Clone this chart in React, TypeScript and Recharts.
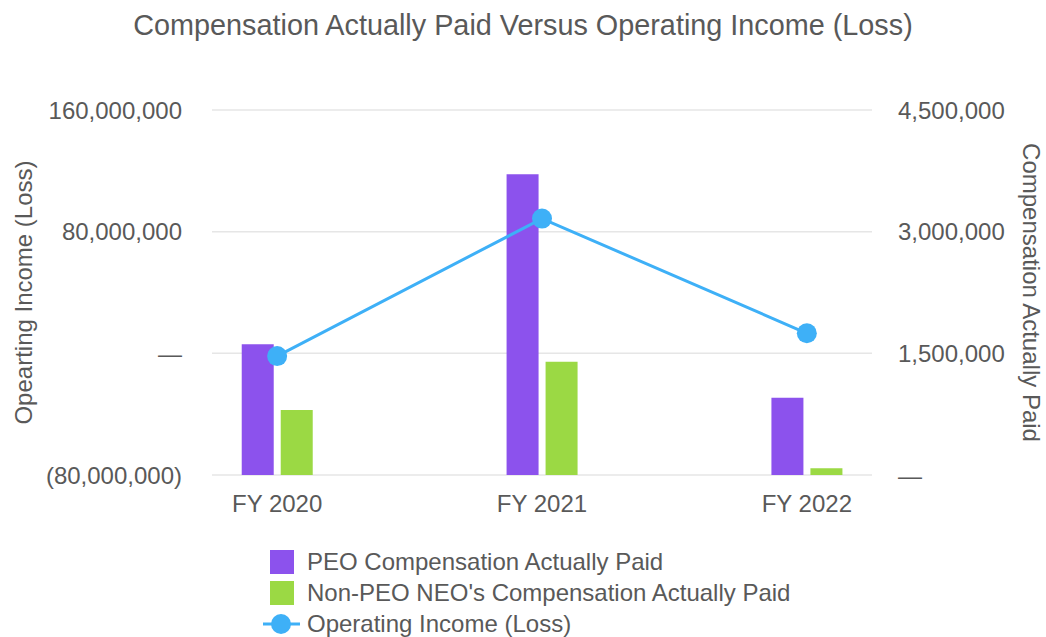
import React from 'react';
import { ComposedChart, Bar, Line, XAxis, YAxis, CartesianGrid, Legend, Label } from 'recharts';

const categories = ['FY 2020', 'FY 2021', 'FY 2022'];
const peoCap = [1613000, 3707000, 952000];
const neoCap = [800000, 1395000, 83000];
const operatingIncome = [-1800000, 88600000, 13200000];
const leftTicks = [-80000000, 0, 80000000, 160000000];
const rightTicks = [0, 1500000, 3000000, 4500000];
const seriesNames = [
    'PEO Compensation Actually Paid',
    "Non-PEO NEO's Compensation Actually Paid",
    'Operating Income (Loss)',
];

const PURPLE = '#8c52ed';
const GREEN = '#9bd944';
const BLUE = '#3eb0f7';
const TEXT = '#595959';
const FONT = '"Liberation Sans", Arial, Helvetica, sans-serif';

const data = categories.map((name, i) => ({
    idx: i,
    name,
    peo: peoCap[i],
    neo: neoCap[i],
    income: operatingIncome[i],
}));

const fmt = (v: number) => {
    if (v === 0) return '\u2014';
    const s = String(Math.abs(v)).replace(/\B(?=(\d{3})+(?!\d))/g, ',');
    return v < 0 ? `(${s})` : s;
};

const tickStyle = { fill: TEXT, fontSize: 24, fontFamily: FONT };

function LegendContent({ payload }: any) {
    // keep the series order of the original legend
    const items = [...(payload || [])].sort(
        (a: any, b: any) => seriesNames.indexOf(a.value) - seriesNames.indexOf(b.value)
    );
    return (
        <div style={{ fontFamily: FONT, fontSize: 24, color: TEXT, textAlign: 'left' }}>
            {items.map((entry: any) => (
                <div key={entry.value} style={{ display: 'flex', alignItems: 'center', height: 31 }}>
                    <svg width={38} height={26} style={{ marginRight: 6 }}>
                        {entry.type === 'line' ? (
                            <>
                                <line x1={0} y1={13} x2={37} y2={13} stroke={entry.color} strokeWidth={3} />
                                <circle cx={18} cy={13} r={10} fill={entry.color} />
                            </>
                        ) : (
                            <rect x={7} y={1} width={24} height={24} fill={entry.color} />
                        )}
                    </svg>
                    <span>{entry.value}</span>
                </div>
            ))}
        </div>
    );
}

export default function App() {
    return (
        <div style={{ position: 'absolute', left: 0, top: 0, width: 1046, height: 637, background: '#fff' }}>
            <div
                style={{
                    position: 'absolute', left: 0, top: 11, width: 1046, textAlign: 'center',
                    fontFamily: FONT, fontSize: 28.8, lineHeight: 1, color: TEXT,
                }}
            >
                Compensation Actually Paid Versus Operating Income (Loss)
            </div>
            <ComposedChart
                width={1046}
                height={637}
                data={data}
                barGap={7}
                margin={{ top: 110, right: 0, bottom: 122, left: 0 }}
            >
                <CartesianGrid vertical={false} stroke="#e6e6e6" strokeWidth={1.5} yAxisId="left" />
                <XAxis
                    dataKey="idx"
                    type="number"
                    domain={[-0.246, 2.246]}
                    ticks={[0, 1, 2]}
                    interval={0}
                    tickFormatter={(i) => categories[i]}
                    axisLine={false}
                    tickLine={false}
                    tickSize={0}
                    tickMargin={20}
                    height={40}
                    tick={tickStyle}
                />
                <YAxis
                    yAxisId="left"
                    domain={[-80000000, 160000000]}
                    ticks={leftTicks}
                    tickFormatter={fmt}
                    axisLine={false}
                    tickLine={false}
                    tickSize={0}
                    tickMargin={30}
                    width={212}
                    tick={tickStyle}
                >
                    <Label
                        value="Opearting Income (Loss)"
                        angle={-90}
                        position="insideLeft"
                        offset={23}
                        style={{ textAnchor: 'middle', fill: TEXT, fontSize: 24, fontFamily: FONT }}
                    />
                </YAxis>
                <YAxis
                    yAxisId="right"
                    orientation="right"
                    domain={[0, 4500000]}
                    ticks={rightTicks}
                    tickFormatter={fmt}
                    axisLine={false}
                    tickLine={false}
                    tickSize={0}
                    tickMargin={26}
                    width={174}
                    tick={tickStyle}
                >
                    <Label
                        value="Compensation Actually Paid"
                        angle={90}
                        position="insideRight"
                        offset={14}
                        style={{ textAnchor: 'middle', fill: TEXT, fontSize: 24, fontFamily: FONT }}
                    />
                </YAxis>
                <Bar dataKey="peo" name={seriesNames[0]} yAxisId="right" fill={PURPLE} barSize={32} isAnimationActive={false} />
                <Bar dataKey="neo" name={seriesNames[1]} yAxisId="right" fill={GREEN} barSize={32} isAnimationActive={false} />
                <Line
                    dataKey="income"
                    name={seriesNames[2]}
                    yAxisId="left"
                    stroke={BLUE}
                    strokeWidth={3}
                    dot={{ r: 10, fill: BLUE, stroke: 'none' }}
                    activeDot={false}
                    isAnimationActive={false}
                />
                <Legend
                    layout="vertical"
                    align="center"
                    verticalAlign="middle"
                    content={<LegendContent />}
                    wrapperStyle={{ left: 263, top: 546, width: 'auto', height: 'auto' }}
                />
            </ComposedChart>
        </div>
    );
}
